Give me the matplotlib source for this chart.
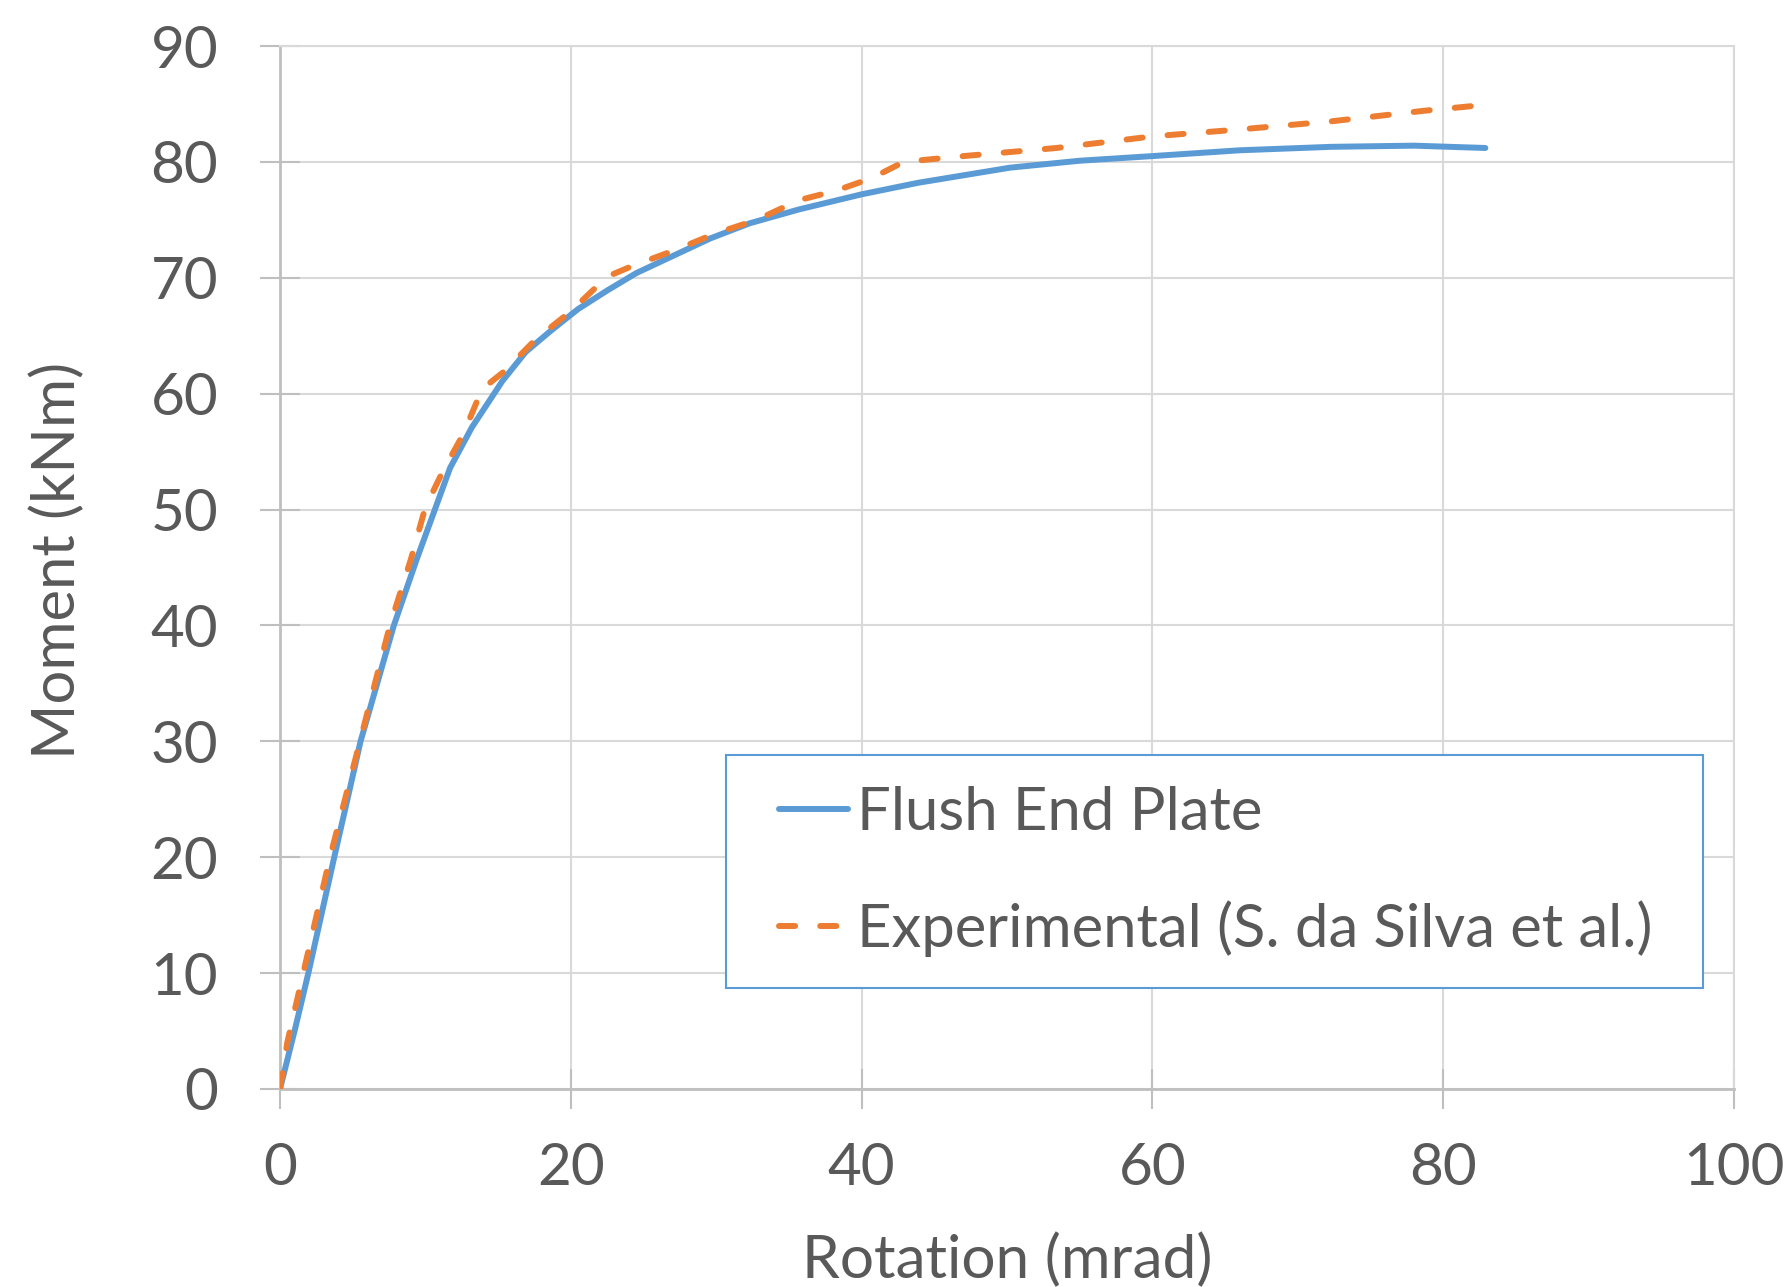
import numpy as np
import matplotlib
matplotlib.use("Agg")
import matplotlib.pyplot as plt
from matplotlib.patches import Rectangle

# Flush End Plate (model)
fep_rot = [0, 1.0, 1.95, 3.73, 5.0, 5.54, 7.83, 9.4, 11.7, 13.2, 15.3, 16.9, 18.6,
           20.5, 22.5, 24.5, 27.9, 29.6, 32.3, 35.7, 40.0, 43.9, 50.2, 55.0, 60.0,
           66.0, 72.3, 78.0, 82.9]
fep_mom = [0, 5, 10, 20, 27, 30, 40, 45.7, 53.6, 57.1, 61.1, 63.6, 65.4,
           67.3, 68.9, 70.4, 72.4, 73.4, 74.7, 75.9, 77.2, 78.2, 79.5, 80.1, 80.5,
           81.0, 81.3, 81.4, 81.2]

# Experimental (S. da Silva et al.)
exp_rot = [0, 0.5, 1.6, 3.44, 5.5, 7.56, 9.0, 10.0, 11.2, 12.6, 13.9, 15.4, 17.6,
           20.0, 22.5, 24.2, 27.2, 29.9, 32.8, 35.7, 38.2, 40.7, 42.9, 47.0, 53.4,
           60.0, 66.0, 72.3, 78.6, 83.5]
exp_mom = [0, 4, 10, 20, 30, 40, 45.7, 50.2, 53.3, 56.5, 60.4, 61.9, 64.7,
           67.1, 70.1, 71.0, 72.4, 73.8, 75.0, 76.7, 77.5, 78.6, 80.0, 80.5, 81.2,
           82.2, 82.8, 83.5, 84.4, 85.0]

x_ticks = [0, 20, 40, 60, 80, 100]
y_ticks = [0, 10, 20, 30, 40, 50, 60, 70, 80, 90]

TEXT = "#595959"
plt.rcParams['font.family'] = ['Lato', 'DejaVu Sans']

fig = plt.figure(figsize=(17.92, 12.87), dpi=100)
ax = fig.add_axes([280 / 1792, 1 - 1089 / 1287, 1454 / 1792, 1043 / 1287])

ax.plot(fep_rot, fep_mom, color="#5b9bd5", lw=4.3, solid_capstyle="round",
        label="Flush End Plate", zorder=3)
ax.plot(exp_rot, exp_mom, color="#ed7d31", lw=4.3, dashes=(2.7, 4.2),
        dash_capstyle="round", label="Experimental (S. da Silva et al.)", zorder=4)

ax.set_xlim(0, 100)
ax.set_ylim(0, 90)
ax.set_xticks(x_ticks)
ax.set_yticks(y_ticks)
ax.grid(True, color="#d9d9d9", lw=1.5, zorder=0)
ax.set_axisbelow(True)

for side in ["top", "right"]:
    ax.spines[side].set_color("#d9d9d9")
    ax.spines[side].set_linewidth(1.5)
for side in ["left", "bottom"]:
    ax.spines[side].set_color("#bfbfbf")
    ax.spines[side].set_linewidth(2.0)

ax.tick_params(axis="both", direction="inout", length=28.8, width=1.5,
               color="#bfbfbf", labelcolor=TEXT, labelsize=42)
ax.tick_params(axis="y", pad=30)
ax.tick_params(axis="x", pad=24)

fig.text(1007 / 1792, 1 - 1260 / 1287, "Rotation (mrad)", ha="center", va="center",
         fontsize=43.5, color=TEXT)
fig.text(57 / 1792, 1 - 560 / 1287, "Moment (kNm)", ha="center", va="center",
         rotation=90, fontsize=43, color=TEXT)

# legend box drawn separately so the padding can differ horizontally / vertically
ax.add_patch(Rectangle((0.3067, 0.0968), 0.672, 0.2234, transform=ax.transAxes,
                       facecolor="white", edgecolor="#5b9bd5", lw=1.5, zorder=6))
leg = ax.legend(loc="center left", bbox_to_anchor=(0.3432, 0.2085),
                fontsize=43, frameon=False, borderpad=0, borderaxespad=0,
                handlelength=1.16, handletextpad=0.15, labelspacing=1.02)
leg.set_zorder(7)
for t in leg.get_texts():
    t.set_color(TEXT)

fig.savefig("out.png", dpi=100)
